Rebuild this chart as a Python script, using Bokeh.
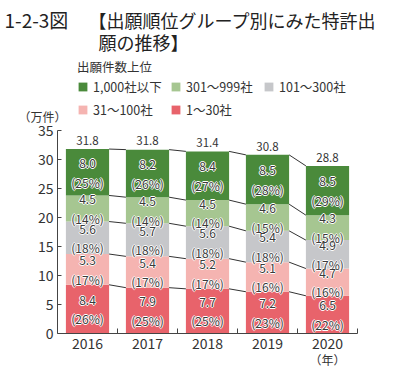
from bokeh.plotting import figure
from bokeh.models import Range1d, FixedTicker, Label, Legend, LegendItem, ColumnDataSource
from bokeh.core.properties import value
from bokeh.embed import file_html
from bokeh.resources import INLINE

# ---- data ----
years = ["2016", "2017", "2018", "2019", "2020"]
groups = ["1～30社", "31～100社", "101～300社", "301～999社", "1,000社以下"]
g1_30 = [8.4, 7.9, 7.7, 7.2, 6.5]
g31_100 = [5.3, 5.4, 5.2, 5.1, 4.7]
g101_300 = [5.6, 5.7, 5.6, 5.4, 4.9]
g301_999 = [4.5, 4.5, 4.5, 4.6, 4.3]
g1000 = [8.0, 8.2, 8.4, 8.5, 8.5]
p1_30 = [26, 25, 25, 23, 22]
p31_100 = [17, 17, 17, 16, 16]
p101_300 = [18, 18, 18, 18, 17]
p301_999 = [14, 14, 14, 15, 15]
p1000 = [25, 26, 27, 28, 29]
totals = [31.8, 31.8, 31.4, 30.8, 28.8]
y_ticks = [0, 5, 10, 15, 20, 25, 30, 35]

series = [g1_30, g31_100, g101_300, g301_999, g1000]
pcts = [p1_30, p31_100, p101_300, p301_999, p1000]
colors = ["#e8636b", "#f5b4b1", "#c6c7ca", "#a6c691", "#4a8a3b"]

JP = "Noto Sans CJK JP"
NUM = "'Liberation Sans Narrow', 'Noto Sans CJK JP', sans-serif"
BW = 0.72
W, H = 404, 369
# frame covers whole canvas; data 0..5 spans px 57..357, 0..35 spans px 333..130
PXX = 60.0
PXY = (333 - 130) / 35.0
x_rng = Range1d(-57 / PXX, 5 + (W - 357) / PXX)
y_rng = Range1d(-(H - 333) / PXY, 35 + 130 / PXY)

p = figure(width=W, height=H, x_range=x_rng, y_range=y_rng, title=None,
           output_backend="svg", toolbar_location=None,
           min_border_left=0, min_border_right=0, min_border_top=0, min_border_bottom=0)
p.xgrid.visible = False
p.ygrid.visible = False
p.outline_line_color = None
p.background_fill_color = "white"

xs = [i + 0.5 for i in range(len(years))]

# stacked bars
bottoms = [0.0] * len(years)
renderers = []
cums = []
lab_x, lab_y, lab_t = [], [], []
for vals, pc, col in zip(series, pcts, colors):
    tops = [b + v for b, v in zip(bottoms, vals)]
    src = ColumnDataSource(dict(x=xs, bottom=bottoms, top=tops))
    r = p.vbar(x="x", bottom="bottom", top="top", width=BW, source=src,
               fill_color=col, line_color=None)
    renderers.append(r)
    for i in range(len(years)):
        lab_x.append(xs[i])
        lab_y.append((bottoms[i] + tops[i]) / 2)
        lab_t.append(f"{vals[i]:.1f}\n({pc[i]}%)")
    cums.append(tops)
    bottoms = tops

# connecting lines between bars
sx0, sy0, sx1, sy1 = [], [], [], []
for lev in cums:
    for i in range(len(years) - 1):
        sx0.append(xs[i] + BW / 2)
        sy0.append(lev[i])
        sx1.append(xs[i + 1] - BW / 2)
        sy1.append(lev[i + 1])
p.segment(x0=sx0, y0=sy0, x1=sx1, y1=sy1, line_color="#333333", line_width=1)

# value labels with white halo
lab_src = ColumnDataSource(dict(x=lab_x, y=lab_y, t=lab_t))
for dx, dy in [(-1, 0), (1, 0), (0, -1), (0, 1)]:
    p.text(x="x", y="y", text="t", source=lab_src, x_offset=dx, y_offset=dy,
           text_align="center", text_baseline="middle", text_font=value(JP),
           text_font_size="12px", text_color="white", text_line_height=1.15)
p.text(x="x", y="y", text="t", source=lab_src, text_align="center", text_baseline="middle",
       text_font=value(JP), text_font_size="12px", text_color="#3a3a3a", text_line_height=1.15)

# totals
p.text(x=xs, y=totals, text=[f"{t:.1f}" for t in totals], text_align="center",
       text_baseline="bottom", y_offset=-4, text_font=value(JP), text_font_size="11.5px",
       text_color="#333333")

# axes, fixed at the data origin
ya = p.yaxis[0]
ya.fixed_location = 0
ya.bounds = (0, 35)
ya.ticker = FixedTicker(ticks=y_ticks)
ya.major_tick_in = 4
ya.major_tick_out = 0
ya.minor_tick_in = 0
ya.minor_tick_out = 0
ya.axis_line_color = "#444444"
ya.major_tick_line_color = "#444444"
ya.major_label_text_font = NUM
ya.major_label_text_font_size = "14px"
ya.major_label_text_color = "#333333"
ya.major_label_standoff = 4

xa = p.xaxis[0]
xa.fixed_location = 0
xa.bounds = (0, 5)
xa.ticker = FixedTicker(ticks=xs, minor_ticks=[1, 2, 3, 4, 5])
xa.major_label_overrides = {x: y for x, y in zip(xs, years)}
xa.major_tick_in = 0
xa.major_tick_out = 0
xa.minor_tick_in = 5
xa.minor_tick_out = 0
xa.axis_line_color = "#444444"
xa.minor_tick_line_color = "#444444"
xa.major_label_text_font = NUM
xa.major_label_text_font_size = "14px"
xa.major_label_text_color = "#333333"
xa.major_label_standoff = 4

# title & units (screen units: frame == canvas, y from bottom)
p.add_layout(Label(x=4, y=H - 19, x_units="screen", y_units="screen",
                   text="1-2-3図", text_font=JP,
                   text_font_size="19px", text_color="#222222", text_baseline="middle"))
p.add_layout(Label(x=88, y=H - 19, x_units="screen", y_units="screen",
                   text="【出願順位グループ別にみた特許出", text_font=JP,
                   text_font_size="18px", text_color="#222222", text_baseline="middle"))
p.add_layout(Label(x=98, y=H - 41, x_units="screen", y_units="screen",
                   text="願の推移】", text_font=JP,
                   text_font_size="18px", text_color="#222222", text_baseline="middle"))
p.add_layout(Label(x=42, y=H - 116, x_units="screen", y_units="screen",
                   text="（万件）", text_font=JP, text_align="center",
                   text_font_size="12px", text_color="#333333", text_baseline="middle"))
p.add_layout(Label(x=327, y=H - 359, x_units="screen", y_units="screen",
                   text="（年）", text_font=JP, text_align="center",
                   text_font_size="12px", text_color="#333333", text_baseline="middle"))

# legend
order = [4, 3, 2, 1, 0]
items = [LegendItem(label=groups[k], renderers=[renderers[k]]) for k in order]
legend = Legend(items=items, location=(77, H - 118.5), orientation="horizontal", ncols=3,
                title="出願件数上位", title_text_font=JP, title_text_font_size="12.5px",
                title_text_font_style="normal", title_text_color="#333333", title_standoff=1,
                label_text_font=JP, label_text_font_size="12.5px", label_text_color="#333333",
                glyph_width=11, glyph_height=11, label_standoff=5, label_width=73,
                spacing=4, padding=0, margin=0, border_line_color=None,
                background_fill_alpha=0)
p.add_layout(legend, "center")

open("out.html", "w").write(file_html(p, INLINE))
